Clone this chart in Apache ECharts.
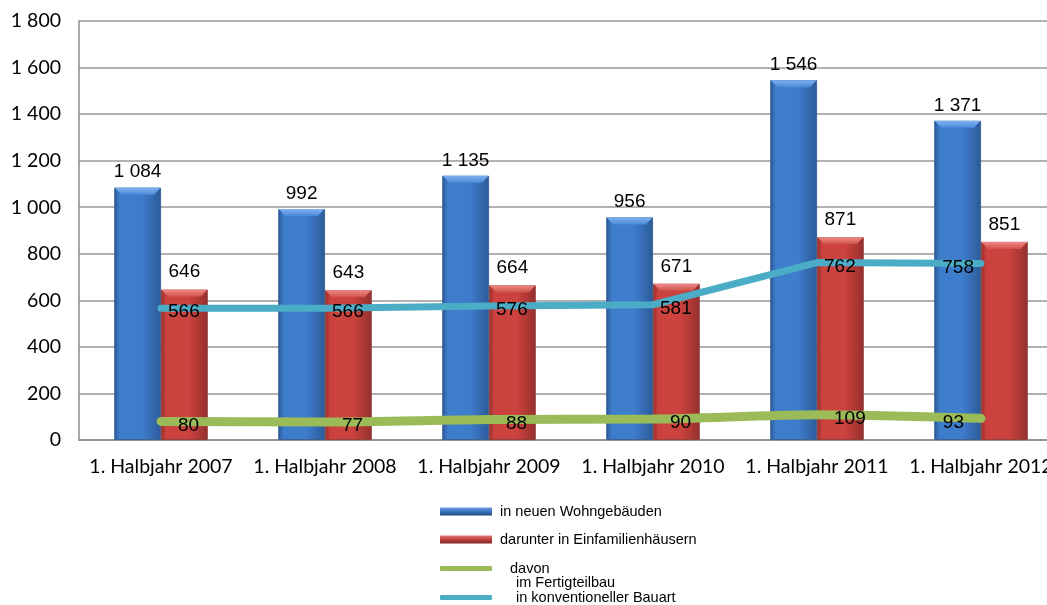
<!DOCTYPE html>
<html>
<head>
<meta charset="utf-8">
<script src="https://cdn.jsdelivr.net/npm/echarts@6/dist/echarts.min.js"></script>
<style>html,body{margin:0;padding:0;background:#fff;}#c{width:1047px;height:605px;}</style>
</head>
<body>
<div id="c"></div>
<script>
var categories = ['1. Halbjahr 2007','1. Halbjahr 2008','1. Halbjahr 2009','1. Halbjahr 2010','1. Halbjahr 2011','1. Halbjahr 2012'];
var neueWohngebaeude = [1084, 992, 1135, 956, 1546, 1371];
var einfamilienhaeuser = [646, 643, 664, 671, 871, 851];
var fertigteilbau = [80, 77, 88, 90, 109, 93];
var konventionell = [566, 566, 576, 581, 762, 758];
var yTicks = [0, 200, 400, 600, 800, 1000, 1200, 1400, 1600, 1800];

function fmt(v){ return String(v).replace(/\B(?=(\d{3})+(?!\d))/g, ' '); }

var labelFont = {color:'#000', fontFamily:'Liberation Sans, Arial, sans-serif', fontSize:19};
var legendFont = {color:'#000', fontFamily:'Liberation Sans, Arial, sans-serif', fontSize:14.5};
var BAR_FRACTION = 0.57;

function barGrad(edge, mid){
  return new echarts.graphic.LinearGradient(0,0,1,0,[
    {offset:0,color:edge},{offset:0.12,color:mid},{offset:0.6,color:mid},{offset:1,color:edge}
  ]);
}
function lineData(arr, dist){
  return arr.map(function(v,i){
    var last = i === arr.length-1;
    return {value:v, label:{position: last ? 'left' : 'right', distance: dist, offset:[0,4]}};
  });
}
function bevelSeries(arr, side, light, mid){
  return {
    type:'custom', silent:true, z:3,
    data: arr.map(function(v,i){ return [i, v]; }),
    encode:{x:0, y:1},
    renderItem:function(params, api){
      var p = api.coord([api.value(0), api.value(1)]);
      var band = api.size([1,0])[0];
      var w = band * BAR_FRACTION / 2;
      var x0 = side < 0 ? p[0] - w : p[0];
      var x1 = x0 + w;
      var h = 7;
      return {
        type:'polygon',
        shape:{points:[[x0+0.5,p[1]],[x1-0.5,p[1]],[x1-h,p[1]+h],[x0+h,p[1]+h]]},
        style:{fill:new echarts.graphic.LinearGradient(0,0,0,1,[{offset:0,color:light},{offset:1,color:mid}])}
      };
    }
  };
}

var chart = echarts.init(document.getElementById('c'));
chart.setOption({
  animation:false,
  grid:{left:79, top:21, width:984, height:419, outerBoundsMode:'none', containLabel:false},
  xAxis:{
    type:'category', data:categories,
    axisLine:{lineStyle:{color:'#8c8c8c', width:1.5}},
    axisTick:{show:false},
    axisLabel:{color:'#000', fontFamily:'Lato, Calibri, sans-serif', fontSize:19.5, margin:17, interval:0, hideOverlap:false}
  },
  yAxis:{
    type:'value', min:0, max:1800, interval:200,
    axisLine:{show:true, lineStyle:{color:'#8c8c8c', width:1.5}},
    axisTick:{show:false},
    splitLine:{lineStyle:{color:'#999', width:1.5}},
    axisLabel:{color:'#000', fontFamily:'Lato, Calibri, sans-serif', fontSize:19.5, margin:18,
      formatter:function(v){ return yTicks.indexOf(v) >= 0 ? fmt(v) : ''; }}
  },
  legend:[
    {left:440, top:504, padding:0, orient:'vertical', icon:'rect', itemWidth:52, itemHeight:8,
     textStyle:Object.assign({padding:[0,0,0,3]}, legendFont),
     data:[{name:'in neuen Wohngebäuden', itemStyle:{color:new echarts.graphic.LinearGradient(0,0,0,1,[{offset:0,color:'#6f9ee0'},{offset:0.5,color:'#3b73c0'},{offset:1,color:'#23497e'}]), borderWidth:0}}]},
    {left:440, top:532, padding:0, orient:'vertical', icon:'rect', itemWidth:52, itemHeight:8,
     textStyle:Object.assign({padding:[0,0,0,3]}, legendFont),
     data:[{name:'darunter in Einfamilienhäusern', itemStyle:{color:new echarts.graphic.LinearGradient(0,0,0,1,[{offset:0,color:'#e07a77'},{offset:0.5,color:'#c0403c'},{offset:1,color:'#7e2321'}]), borderWidth:0}}]},
    {left:440, top:561, padding:0, orient:'vertical', icon:'roundRect', itemWidth:52, itemHeight:5,
     formatter:function(){ return 'davon'; },
     textStyle:Object.assign({padding:[0,0,0,13]}, legendFont),
     data:[{name:'davon im Fertigteilbau', itemStyle:{color:'#9bbb59'}}]},
    {left:440, top:590, padding:0, orient:'vertical', icon:'roundRect', itemWidth:52, itemHeight:5,
     textStyle:Object.assign({padding:[0,0,0,19]}, legendFont),
     data:[{name:'in konventioneller Bauart', itemStyle:{color:'#4bacc6'}}]}
  ],
  graphic:[{type:'text', left:516, top:575, style:{text:'im Fertigteilbau', fill:'#000', font:'14.5px "Liberation Sans", Arial, sans-serif'}}],
  series:[
    {name:'in neuen Wohngebäuden', type:'bar', data:neueWohngebaeude, barGap:'0%', barCategoryGap:'43%',
     itemStyle:{color:barGrad('#2c5a98','#3e7ccc'), borderColor:'#2a5590', borderWidth:0.8},
     label:Object.assign({show:true, position:'top', distance:6, formatter:function(p){return fmt(p.value);}}, labelFont)},
    {name:'darunter in Einfamilienhäusern', type:'bar', data:einfamilienhaeuser,
     itemStyle:{color:barGrad('#94302d','#cc423e'), borderColor:'#8f2f2c', borderWidth:0.8},
     label:Object.assign({show:true, position:'top', distance:8, formatter:function(p){return fmt(p.value);}}, labelFont)},
    bevelSeries(neueWohngebaeude, -1, '#7fb2f0', '#4a8ad8'),
    bevelSeries(einfamilienhaeuser, 1, '#ee8a86', '#d2504b'),
    {name:'davon im Fertigteilbau', type:'line', data:lineData(fertigteilbau, 16), smooth:0.3,
     showSymbol:true, symbol:'circle', symbolSize:2, z:5,
     lineStyle:{color:'#9bbb59', width:9, cap:'round'}, itemStyle:{color:'#9bbb59'},
     label:Object.assign({show:true}, labelFont)},
    {name:'in konventioneller Bauart', type:'line', data:lineData(konventionell, 6),
     showSymbol:true, symbol:'circle', symbolSize:2, z:5,
     lineStyle:{color:'#4bacc6', width:7, cap:'round'}, itemStyle:{color:'#4bacc6'},
     label:Object.assign({show:true}, labelFont)}
  ]
});
</script>
</body>
</html>
